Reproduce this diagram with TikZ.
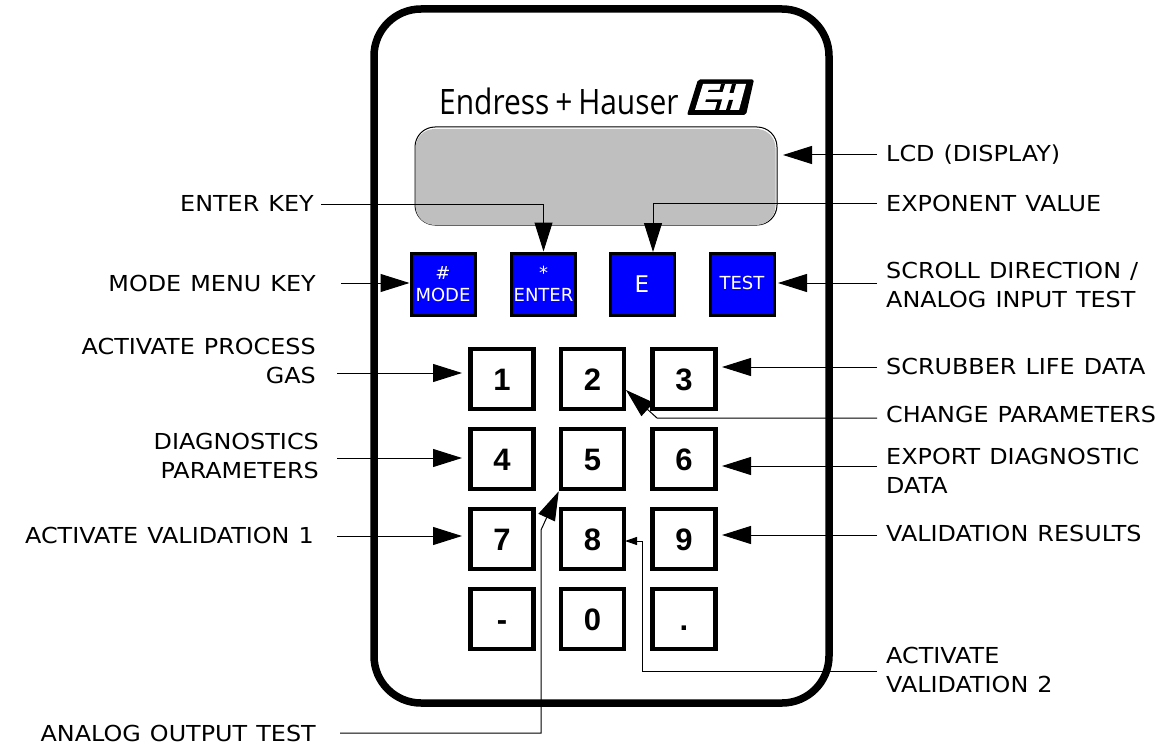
\documentclass[tikz,border=0pt]{standalone}
\usepackage{fontspec}
\setmainfont{DejaVu Sans}
\newfontfamily\lblfont[FakeStretch=1.085,WordSpace=1.2]{DejaVu Sans}
\newfontfamily\keyfont{Liberation Sans}
\newfontfamily\logofont[FakeStretch=0.855]{Open Sans}
\usetikzlibrary{arrows.meta}

\tikzset{
    lbl/.style={font=\lblfont\fontsize{22}{29}\selectfont, inner sep=0pt},
    lblleft/.style={lbl, anchor=east, align=right},
    lblright/.style={lbl, anchor=west, align=left},
    bluekey/.style={draw=black, line width=3pt, fill=blue, text=white, minimum width=64pt, minimum height=62pt, inner sep=0pt, align=center, font=\fontsize{18}{22}\selectfont},
    numkey/.style={draw=black, line width=4.5pt, fill=white, minimum width=63pt, minimum height=60pt, inner sep=0pt, text height=22pt, text depth=0pt, font=\keyfont\bfseries\fontsize{31}{31}\selectfont},
    bigarrow/.style={line width=1pt, -{Triangle[length=29pt,width=18pt]}},
    smallarrow/.style={line width=1pt, -{Triangle[length=12pt,width=8pt]}}
}

\begin{document}
\begin{tikzpicture}[x=1pt,y=-1pt]
    \useasboundingbox (0,0) rectangle (1161,746);

    % Housing
    \draw[line width=7.5pt, rounded corners=47pt] (374,9) rectangle (829,703);

    % Logo
    \node[inner sep=0pt, font=\logofont\fontsize{35}{35}\selectfont, anchor=base west] (logo) at (439,115) {Endress\,+\,Hauser};
    \fill[rounded corners=2pt] (687,115) -- (698,79.5) -- (754,79.5) -- (746,115) -- cycle;
    \fill[white] (695,110) -- (703,84) -- (746,84) -- (739,110) -- cycle;
    \fill (721,84) -- (725,84) -- (722.5,92) -- (708,92) -- (708.6,90) -- (719.5,90) -- cycle;
    \fill (706,99.5) -- (722,99.5) -- (719,110) -- (715,110) -- (717.3,102) -- (705.3,102) -- cycle;
    \fill (732,84) -- (736,84) -- (733.5,93) -- (729.5,93) -- cycle;
    \fill (729,100) -- (733,100) -- (730,110) -- (726,110) -- cycle;

    % Display
    \node[draw=black, line width=1pt, fill=white, rounded corners=20pt, minimum width=362pt, minimum height=98pt] (lcd) at (596,176) {};
    \node[fill=gray!50!white, rounded corners=19pt, minimum width=360pt, minimum height=96pt] (lcdface) at (595.5,177) {};

    % Blue keys
    \node[bluekey] (keymode) at (443,284) {\#\\MODE};
    \node[bluekey] (keyenter) at (543.5,284) {*\\ENTER};
    \node[bluekey] (keye) at (642,284) {\fontsize{23}{22}\selectfont E};
    \node[bluekey] (keytest) at (742,284) {\raisebox{2pt}{TEST}};

    % Number keys
    \node[numkey] (key1) at (502,379) {1};
    \node[numkey] (key2) at (592.5,379) {2};
    \node[numkey] (key3) at (684,379) {3};
    \node[numkey] (key4) at (502,459) {4};
    \node[numkey] (key5) at (592.5,459) {5};
    \node[numkey] (key6) at (684,459) {6};
    \node[numkey] (key7) at (502,539) {7};
    \node[numkey] (key8) at (592.5,539) {8};
    \node[numkey] (key9) at (684,539) {9};
    \node[numkey] (keydash) at (502,619) {-};
    \node[numkey] (key0) at (592.5,619) {0};
    \node[numkey] (keydot) at (684,619) {.};

    % Left labels
    \node[lblleft] (lblenter) at (314,203) {ENTER KEY};
    \node[lblleft] (lblmode) at (316,283) {MODE MENU KEY};
    \node[lblleft] (lblgas) at (316,361) {ACTIVATE PROCESS\\GAS};
    \node[lblleft] (lbldiag) at (319,456) {DIAGNOSTICS\\PARAMETERS};
    \node[lblleft] (lblval) at (314,535) {ACTIVATE VALIDATION 1};
    \node[lblleft] (lblout) at (316,733) {ANALOG OUTPUT TEST};

    % Right labels
    \node[lblright] (lbllcd) at (886,155) {LCD (DISPLAY)};
    \node[lblright] (lblexp) at (886,203) {EXPONENT VALUE};
    \node[lblright] (lblscroll) at (886,285) {SCROLL DIRECTION /\\ANALOG INPUT TEST};
    \node[lblright] (lblscrub) at (886,366) {SCRUBBER LIFE DATA};
    \node[lblright] (lblchange) at (886,414) {CHANGE PARAMETERS};
    \node[lblright] (lblexport) at (886,471) {EXPORT DIAGNOSTIC\\DATA};
    \node[lblright] (lblres) at (886,533) {VALIDATION RESULTS};
    \node[lblright] (lblval2) at (886,670) {ACTIVATE\\VALIDATION 2};

    % Arrows from the left
    \coordinate (enterstart) at (321,204);
    \coordinate (modestart) at (341,283);
    \coordinate (gasstart) at (337,373);
    \coordinate (diagstart) at (337,458);
    \coordinate (valstart) at (337,536);
    \coordinate (outstart) at (340,733);
    \draw[bigarrow] (enterstart) -| (keyenter.north);
    \draw[bigarrow] (modestart) -- (keymode.west |- modestart);
    \draw[bigarrow] (gasstart) -- (462,373);
    \draw[bigarrow] (diagstart) -- (462,458);
    \draw[bigarrow] (valstart) -- (462,536);
    \draw[bigarrow] (outstart) -- (541,733) -- (541,530) -- (key5.south west);

    % Arrows from the right
    \coordinate (lcdstart) at (877,155);
    \coordinate (expstart) at (877,203);
    \coordinate (scrollstart) at (877,283);
    \coordinate (scrubstart) at (877,367);
    \coordinate (changestart) at (877,418);
    \coordinate (exportstart) at (877,466);
    \coordinate (resstart) at (877,535);
    \coordinate (val2start) at (877,671);
    \draw[bigarrow] (lcdstart) -- (783,155);
    \draw[bigarrow] (expstart) -- (653,203) -- (653,252);
    \draw[bigarrow] (scrollstart) -- (778,283);
    \draw[bigarrow] (scrubstart) -- (722,367);
    \draw[bigarrow] (changestart) -- (657,418) -- (626,390);
    \draw[bigarrow] (exportstart) -- (722,466);
    \draw[bigarrow] (resstart) -- (722,535);
    \draw[smallarrow] (val2start) -- (642.5,671) -- (642.5,541) -- (625,541);
\end{tikzpicture}
\end{document}
